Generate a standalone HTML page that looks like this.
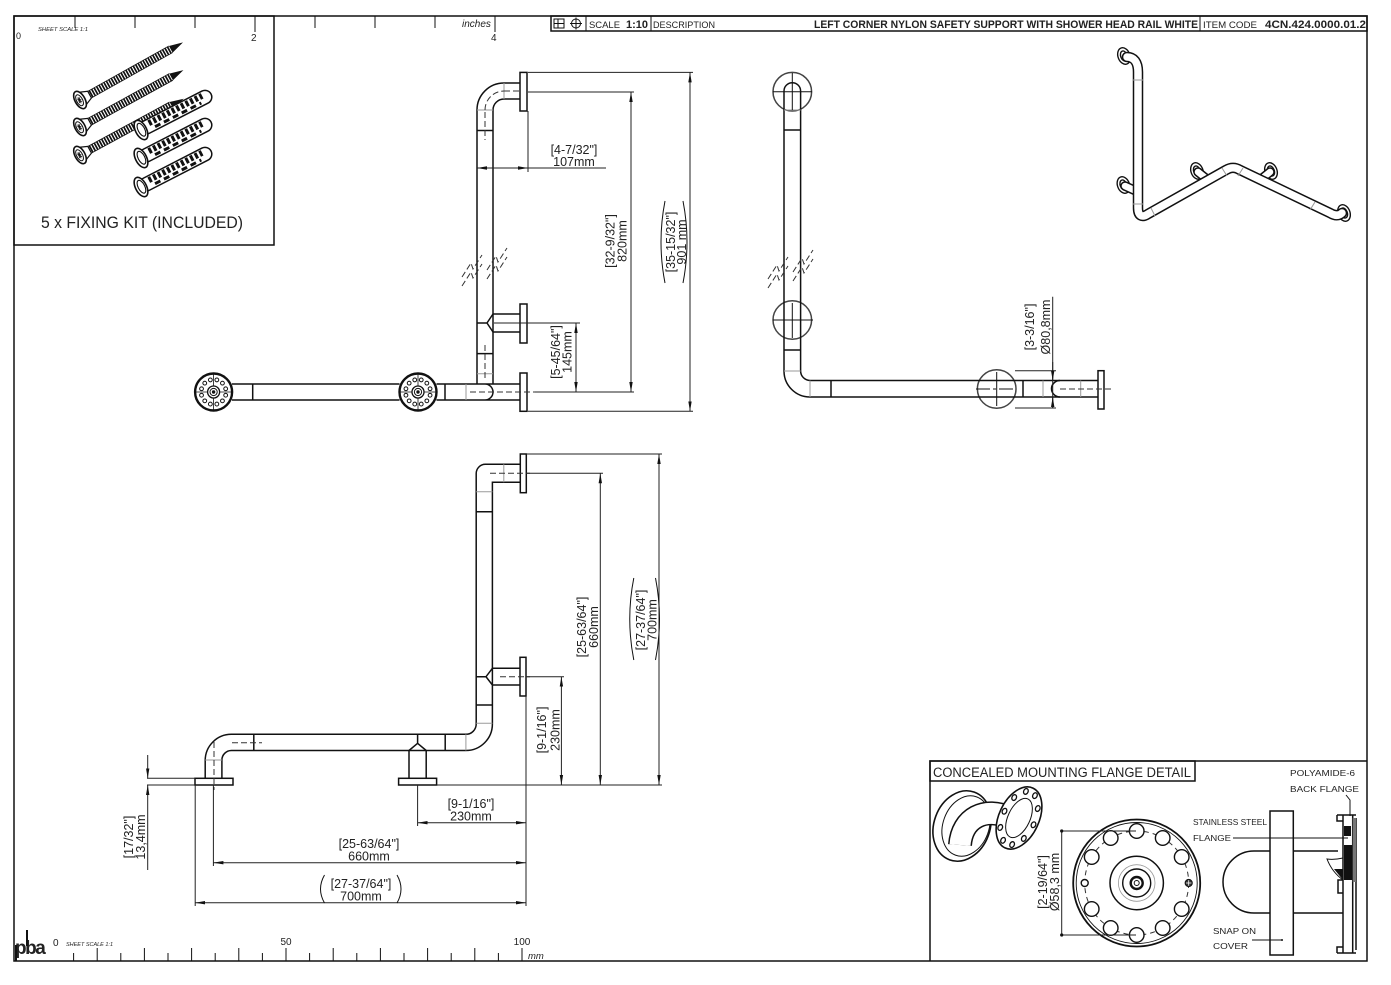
<!DOCTYPE html>
<html><head><meta charset="utf-8">
<style>
html,body{margin:0;padding:0;background:#fff;}
svg{display:block;}
text{font-family:"Liberation Sans",sans-serif;fill:#222;}
.k{stroke:#111;stroke-width:1.5;fill:none;}
.m{stroke:#111;stroke-width:1;fill:none;}
.g{stroke:#9a9a9a;stroke-width:1;fill:none;}
.d{stroke:#333;stroke-width:1;fill:none;stroke-dasharray:6 3;}
.dim{stroke:#222;stroke-width:1;fill:none;}
.dt{font-size:12.5px;}
.sm{font-size:9px;}
</style></head><body>
<svg width="1391" height="985" viewBox="0 0 1391 985" xmlns="http://www.w3.org/2000/svg">
<defs>
<marker id="ar" viewBox="0 0 10 4" refX="10" refY="2" markerWidth="10" markerHeight="4" orient="auto-start-reverse" markerUnits="userSpaceOnUse"><path d="M0,0.3 L10,2 L0,3.7z" fill="#111"/></marker>
<g id="fc">
<circle r="18.5" fill="#fff" stroke="#111" stroke-width="2.4"/>
<path d="M-18.5,0 H18.5 M0,-18.5 V18.5" stroke="#111" stroke-width="0.8"/>
<g fill="#fff" stroke="#111" stroke-width="1">
<circle cx="12.07" cy="3.24" r="1.9"/><circle cx="8.84" cy="8.84" r="1.9"/><circle cx="3.24" cy="12.07" r="1.9"/>
<circle cx="-3.24" cy="12.07" r="1.9"/><circle cx="-8.84" cy="8.84" r="1.9"/><circle cx="-12.07" cy="3.24" r="1.9"/>
<circle cx="-12.07" cy="-3.24" r="1.9"/><circle cx="-8.84" cy="-8.84" r="1.9"/><circle cx="-3.24" cy="-12.07" r="1.9"/>
<circle cx="3.24" cy="-12.07" r="1.9"/><circle cx="8.84" cy="-8.84" r="1.9"/><circle cx="12.07" cy="-3.24" r="1.9"/>
<circle r="6" stroke-width="1.3"/><circle r="3.6"/>
</g>
<circle r="1.7" fill="#111"/>
</g>
<g id="screw">
<line x1="9" y1="0" x2="104" y2="0" stroke="#111" stroke-width="7.5" stroke-dasharray="1.7 1.1"/>
<path d="M9,-3.8 H104 M9,3.8 H104" stroke="#111" stroke-width="0.8"/>
<path d="M104,-3.8 L118,0 L104,3.8z" fill="#111"/>
<path d="M1,-8 L11,-3.8 L11,3.8 L1,8z" fill="#fff" stroke="#111" stroke-width="1.2"/>
<ellipse rx="5" ry="9.5" fill="#fff" stroke="#111" stroke-width="1.6"/>
<ellipse cx="-0.5" rx="3" ry="6" fill="#fff" stroke="#111" stroke-width="1"/>
<path d="M-0.5,-3.5 V3.5 M-2.5,0 H1.5 M-2,-2.5 L1,2.5 M-2,2.5 L1,-2.5" stroke="#111" stroke-width="0.8"/>
</g>
<g id="anchor">
<line x1="6" y1="0" x2="72" y2="0" stroke="#111" stroke-width="15" stroke-linecap="round"/>
<line x1="6" y1="0" x2="72" y2="0" stroke="#fff" stroke-width="12" stroke-linecap="round"/>
<line x1="10" y1="-2.5" x2="70" y2="-2.5" stroke="#111" stroke-width="6" stroke-dasharray="3 2.2"/>
<line x1="14" y1="3.5" x2="66" y2="3.5" stroke="#111" stroke-width="3" stroke-dasharray="6 4"/>
<ellipse rx="5.5" ry="10.5" fill="#fff" stroke="#111" stroke-width="1.6"/>
<ellipse cx="0.5" rx="3.3" ry="7" fill="#fff" stroke="#111" stroke-width="1.1"/>
</g>
</defs>
<rect width="1391" height="985" fill="#fff"/>

<!-- frame -->
<rect x="14" y="16" width="1353" height="945" class="k"/>
<!-- top ruler -->
<path class="m" d="M75,16V28 M135,16V28 M195,16V28 M255,16V32 M315,16V28 M375,16V28 M435,16V28 M495,16V32"/>
<text x="16" y="39" font-size="9">0</text>
<text x="38" y="31" font-size="5.5" font-style="italic" textLength="50" lengthAdjust="spacingAndGlyphs">SHEET SCALE 1:1</text>
<text x="251" y="41" font-size="10">2</text>
<text x="462" y="27" font-size="10" font-style="italic">inches</text>
<text x="491" y="41" font-size="10">4</text>

<!-- fixing kit -->
<rect x="14" y="16" width="260" height="229" class="k"/>
<use href="#screw" transform="translate(80,155) rotate(-28.5)"/>
<use href="#anchor" transform="translate(141,187) rotate(-27.2)"/>
<use href="#anchor" transform="translate(141,158) rotate(-27.2)"/>
<use href="#anchor" transform="translate(141,130) rotate(-27.2)"/>
<use href="#screw" transform="translate(80,100) rotate(-29.2)"/>
<use href="#screw" transform="translate(80,127) rotate(-28.8)"/>
<text x="142" y="228" font-size="17" text-anchor="middle" textLength="202" lengthAdjust="spacingAndGlyphs">5 x FIXING KIT (INCLUDED)</text>

<!-- title bar -->
<rect x="551" y="16" width="816" height="15" class="k"/>
<path class="m" d="M586,16V31 M651,16V31 M1200,16V31"/>
<rect x="554" y="19" width="10" height="9" class="m"/>
<path class="m" d="M554,23.5 H564 M558,19 V28"/>
<circle cx="576" cy="23.5" r="4.5" class="m"/>
<path class="m" d="M570,23.5 H582 M576,17.5 V29.5"/>
<text x="589" y="28" font-size="9" textLength="31" lengthAdjust="spacingAndGlyphs">SCALE</text>
<text x="626" y="28" font-size="11" font-weight="bold" textLength="22" lengthAdjust="spacingAndGlyphs">1:10</text>
<text x="653" y="28" font-size="9" textLength="62" lengthAdjust="spacingAndGlyphs">DESCRIPTION</text>
<text x="814" y="28" font-size="11" font-weight="bold" textLength="384" lengthAdjust="spacingAndGlyphs">LEFT CORNER NYLON SAFETY SUPPORT WITH SHOWER HEAD RAIL WHITE</text>
<text x="1203" y="28" font-size="9" textLength="54" lengthAdjust="spacingAndGlyphs">ITEM CODE</text>
<text x="1265" y="28" font-size="11" font-weight="bold" textLength="101" lengthAdjust="spacingAndGlyphs">4CN.424.0000.01.2</text>

<!-- ============ FRONT VIEW (top) ============ -->
<g class="k">
<path d="M477,110 V384 M493,110 V384"/>
<path d="M477,110 A27,27 0 0 1 504,83 H520 M493,110 A11,11 0 0 1 504,99 H520"/>
<path d="M477,130.5 H493 M477,353.6 H493"/>
<path d="M493,314 H520 M493,332 H520 M493,314 L487,323 L493,332 M477,323 H487"/>
<path d="M232,384 H399.5 M232,400 H399.5 M436.5,384 H520 M436.5,400 H520 M485,384 A8,8 0 0 1 485,400 M252.7,384 V400 M445,384 V400"/>
<rect x="520" y="72.4" width="7" height="38.6" fill="#fff"/>
<rect x="520" y="304" width="7" height="39" fill="#fff"/>
<rect x="520" y="373" width="7" height="38.3" fill="#fff"/>
</g>
<path class="g" d="M477,110 H493 M477,373.7 H493 M504,83 V99 M466,384 V400"/>
<path class="d" d="M485,112 V140 M504,91 H520 M470,392 H535 M485,345 V380"/>
<path class="d" d="M485,110 A19,19 0 0 1 504,91"/>
<use href="#fc" x="213.6" y="392"/>
<use href="#fc" x="418" y="392"/>
<g class="d" stroke-dasharray="3 2">
<path d="M462,277 l9,-14 l2,6 l9,-14 M462,286 l9,-14 l2,6 l9,-14"/>
<path d="M487,270 l9,-14 l2,6 l9,-14 M487,279 l9,-14 l2,6 l9,-14"/>
</g>
<!-- front dims -->
<path class="dim" d="M528,111 V172 M528,92 H634 M535,392 H634 M528,72.4 H693 M528,411.3 H693 M494,323 H580"/>
<path class="dim" d="M477,168 H528" marker-start="url(#ar)" marker-end="url(#ar)"/>
<path class="dim" d="M528,168 H606"/>
<path class="dim" d="M631,92 V392" marker-start="url(#ar)" marker-end="url(#ar)"/>
<path class="dim" d="M690,72.4 V411.3" marker-start="url(#ar)" marker-end="url(#ar)"/>
<path class="dim" d="M576,323 V392" marker-start="url(#ar)" marker-end="url(#ar)"/>
<text class="dt" x="574" y="154" text-anchor="middle">[4-7/32"]</text>
<text class="dt" x="574" y="166" text-anchor="middle">107mm</text>
<text class="dt" transform="translate(614.5,241) rotate(-90)" text-anchor="middle">[32-9/32"]</text>
<text class="dt" transform="translate(626.5,241) rotate(-90)" text-anchor="middle">820mm</text>
<text class="dt" transform="translate(675,242) rotate(-90)" text-anchor="middle">[35-15/32"]</text>
<text class="dt" transform="translate(686,242) rotate(-90)" text-anchor="middle">901 mm</text>
<path class="m" d="M665,201 Q657,242 665,283 M683,201 Q691,242 683,283"/>
<text class="dt" transform="translate(560,352) rotate(-90)" text-anchor="middle">[5-45/64"]</text>
<text class="dt" transform="translate(571.5,352) rotate(-90)" text-anchor="middle">145mm</text>

<!-- ============ SIDE VIEW ============ -->
<g fill="none" stroke="#444" stroke-width="1.5">
<circle cx="792.3" cy="91.7" r="19.3"/>
<circle cx="792.3" cy="320" r="19.3"/>
<circle cx="996.7" cy="389" r="19.3"/>
</g>
<g class="k">
<path d="M784,371 V91 A8.3,8.3 0 0 1 800.6,91 V371"/>
<path d="M784,371 A26,26 0 0 0 810,397 H1098 M800.6,371 A9.6,9.6 0 0 0 810,380.5 H1098"/>
<path d="M784,130 H800.6 M784,350 H800.6 M831,380.5 V397 M1023,380.5 V397"/>
<path d="M1060,380.5 A8.5,8.25 0 0 0 1060,397"/>
<rect x="1098" y="370.7" width="6" height="38.3" fill="#fff"/>
</g>
<path class="g" d="M784,110 H800.6 M784,371 H800.6 M810,380.5 V397 M1043,380.5 V397 M1080.7,380.5 V397"/>
<path class="m" d="M792.3,73 V110 M773,91.7 H812 M792.3,303 V338 M773,320 H813 M996.7,372 V406"/>
<path class="m" d="M976,389 H1015" stroke-dasharray="14 3 3 3"/>
<path class="d" d="M1060,389 H1112"/>
<g class="d" stroke-dasharray="3 2">
<path d="M768,279 l9,-14 l2,6 l9,-14 M768,288 l9,-14 l2,6 l9,-14"/>
<path d="M793,272 l9,-14 l2,6 l9,-14 M793,281 l9,-14 l2,6 l9,-14"/>
</g>
<path class="dim" d="M1015,370.7 H1056 M1015,408 H1056 M1052.7,296.7 V408"/>
<path class="dim" d="M1052.7,362 V380.5" marker-end="url(#ar)"/>
<path class="dim" d="M1052.7,408 V397" marker-end="url(#ar)"/>
<text class="dt" transform="translate(1034,327) rotate(-90)" text-anchor="middle">[3-3/16"]</text>
<text class="dt" transform="translate(1050,327) rotate(-90)" text-anchor="middle">Ø80,8mm</text>

<!-- ============ ISOMETRIC ============ -->
<g stroke="#111" stroke-width="1.4" fill="#fff">
<ellipse cx="1197" cy="171" rx="6" ry="8.5" transform="rotate(-20 1197 171)"/>
<ellipse cx="1197" cy="171" rx="3.3" ry="5.2" transform="rotate(-20 1197 171)"/>
<ellipse cx="1271" cy="171" rx="6" ry="8.5" transform="rotate(-20 1271 171)"/>
<ellipse cx="1271" cy="171" rx="3.3" ry="5.2" transform="rotate(-20 1271 171)"/>
<ellipse cx="1123.5" cy="185" rx="6" ry="8.5" transform="rotate(-20 1123.5 185)"/>
<ellipse cx="1123.5" cy="185" rx="3.3" ry="5.2" transform="rotate(-20 1123.5 185)"/>
<ellipse cx="1124" cy="56" rx="6" ry="8.5" transform="rotate(-20 1124 56)"/>
<ellipse cx="1124" cy="56" rx="3.3" ry="5.2" transform="rotate(-20 1124 56)"/>
<ellipse cx="1344" cy="213" rx="6" ry="8.5" transform="rotate(-20 1344 213)"/>
<ellipse cx="1344" cy="213" rx="3.3" ry="5.2" transform="rotate(-20 1344 213)"/>
</g>
<g fill="none" stroke-linecap="round">
<path d="M1198,172 L1208,180 M1270,172 L1260,180 M1125,186 L1136,191" stroke="#111" stroke-width="9.5"/>
<path d="M1198,172 L1208,180 M1270,172 L1260,180 M1125,186 L1136,191" stroke="#fff" stroke-width="6.5"/>
<path d="M1127,57 C1134,57 1138,62 1138,72 L1138,208 C1138,216 1142,218 1148,214 L1226,170 C1231,167 1235,167 1240,170 L1330,213 C1335,216 1339,216 1342,213" stroke="#111" stroke-width="10.5"/>
<path d="M1127,57 C1134,57 1138,62 1138,72 L1138,208 C1138,216 1142,218 1148,214 L1226,170 C1231,167 1235,167 1240,170 L1330,213 C1335,216 1339,216 1342,213" stroke="#fff" stroke-width="7.5"/>
</g>
<path class="g" d="M1133,80 H1143 M1133,204 H1143 M1151,208 L1155,216 M1222,168 L1227,176 M1243,168 L1238,176 M1315,202 L1310,210"/>

<!-- ============ BOTTOM VIEW ============ -->
<g class="k">
<path d="M476.2,724 V473.5 A9.2,9.2 0 0 1 485.4,464.3 H520.3"/>
<path d="M476.2,724 A10.3,10.3 0 0 1 465.9,734.3 H231.4 A26.2,26.2 0 0 0 205.2,760.5 V778.3"/>
<path d="M520.3,482.3 H492.4 V724 A26.5,26.5 0 0 1 465.9,750.5 H231.4 A9.5,9.5 0 0 0 221.9,760 V778.3"/>
<path d="M492.4,668.3 H520 M492.4,685 H520 M492.4,668.3 L486,676.7 L492.4,685 M476.2,676.7 H486"/>
<path d="M476.2,511.7 H492.4 M476.2,705 H492.4 M253.8,734.3 V750.5 M445.2,734.3 V750.5"/>
<path d="M409,750.5 V778.3 M426.2,750.5 V778.3 M409,750.5 L417.6,743.3 L426.2,750.5 M417.6,734.3 V743.3"/>
<rect x="520.3" y="454" width="6" height="38.7" fill="#fff"/>
<rect x="520" y="657.3" width="6" height="38.7" fill="#fff"/>
<rect x="195" y="778.3" width="38" height="6.7" fill="#fff"/>
<rect x="398.6" y="778.3" width="38" height="6.7" fill="#fff"/>
</g>
<path class="g" d="M476.2,491.7 H492.4 M476.2,723.3 H492.4 M465.9,734.3 V750.5 M503.8,464.3 V482.3 M205.2,760 H221.9"/>
<path class="d" d="M490,473.3 H530 M232,742.7 H262 M214,742 V790 M500,676.7 H530"/>
<!-- bottom dims -->
<path class="dim" d="M436.6,785 H662 M526,454 H662 M526,473.3 H603 M526,676.7 H564 M526,696 V906 M417.6,785 V826 M213.4,785 V866 M195.2,785 V906 M147,778.3 H195 M147,785 H195"/>
<path class="dim" d="M561.4,676.7 V785" marker-start="url(#ar)" marker-end="url(#ar)"/>
<path class="dim" d="M600.3,473.3 V785" marker-start="url(#ar)" marker-end="url(#ar)"/>
<path class="dim" d="M659,454 V785" marker-start="url(#ar)" marker-end="url(#ar)"/>
<path class="dim" d="M417.6,822.7 H526" marker-start="url(#ar)" marker-end="url(#ar)"/>
<path class="dim" d="M213.4,862.7 H526" marker-start="url(#ar)" marker-end="url(#ar)"/>
<path class="dim" d="M195.2,902.7 H526" marker-start="url(#ar)" marker-end="url(#ar)"/>
<path class="dim" d="M147.7,755 V778.3" marker-end="url(#ar)"/>
<path class="dim" d="M147.7,870 V785" marker-end="url(#ar)"/>
<text class="dt" transform="translate(546,730) rotate(-90)" text-anchor="middle">[9-1/16"]</text>
<text class="dt" transform="translate(559.5,730) rotate(-90)" text-anchor="middle">230mm</text>
<text class="dt" transform="translate(586,627) rotate(-90)" text-anchor="middle">[25-63/64"]</text>
<text class="dt" transform="translate(598,627) rotate(-90)" text-anchor="middle">660mm</text>
<text class="dt" transform="translate(645,620) rotate(-90)" text-anchor="middle">[27-37/64"]</text>
<text class="dt" transform="translate(656.5,620) rotate(-90)" text-anchor="middle">700mm</text>
<path class="m" d="M633.8,578 Q625.7,619 633.8,660 M655.5,578 Q663.5,619 655.5,660"/>
<text class="dt" x="471" y="808" text-anchor="middle">[9-1/16"]</text>
<text class="dt" x="471" y="820.5" text-anchor="middle">230mm</text>
<text class="dt" x="369" y="848" text-anchor="middle">[25-63/64"]</text>
<text class="dt" x="369" y="860.5" text-anchor="middle">660mm</text>
<text class="dt" x="361" y="888" text-anchor="middle">[27-37/64"]</text>
<text class="dt" x="361" y="900.5" text-anchor="middle">700mm</text>
<path class="m" d="M324.5,875 Q316.5,889 324.5,903 M397,875 Q405,889 397,903"/>
<text class="dt" transform="translate(133,837) rotate(-90)" text-anchor="middle">[17/32"]</text>
<text class="dt" transform="translate(145,837) rotate(-90)" text-anchor="middle">13,4mm</text>

<!-- ============ FLANGE DETAIL ============ -->
<path class="k" d="M930,961 V761 H1367"/>
<rect x="930" y="761" width="265" height="20" class="k"/>
<text x="933" y="777" font-size="13.5" textLength="258" lengthAdjust="spacingAndGlyphs">CONCEALED MOUNTING FLANGE DETAIL</text>
<text x="1290" y="776" font-size="8.5" textLength="65" lengthAdjust="spacingAndGlyphs">POLYAMIDE-6</text>
<text x="1290" y="792" font-size="8.5" textLength="69" lengthAdjust="spacingAndGlyphs">BACK FLANGE</text>
<text x="1193" y="825" font-size="8.5" textLength="74" lengthAdjust="spacingAndGlyphs">STAINLESS STEEL</text>
<text x="1193" y="841" font-size="8.5" textLength="38" lengthAdjust="spacingAndGlyphs">FLANGE</text>
<text x="1213" y="934" font-size="8.5" textLength="43" lengthAdjust="spacingAndGlyphs">SNAP ON</text>
<text x="1213" y="949" font-size="8.5" textLength="35" lengthAdjust="spacingAndGlyphs">COVER</text>
<path class="m" d="M1233,838 H1348 M1252,940 H1282 M1346,795 L1350,800 V816"/>
<circle cx="1282" cy="940" r="1" fill="#111"/>

<!-- iso flange -->
<ellipse cx="962" cy="826" rx="28" ry="36" transform="rotate(20 962 826)" fill="#fff" stroke="#111" stroke-width="1.6"/>
<ellipse cx="966" cy="826" rx="23" ry="31" transform="rotate(20 966 826)" fill="none" stroke="#111" stroke-width="1"/>
<path d="M960,845 C962,818 985,806 1010,818" fill="none" stroke="#111" stroke-width="24"/>
<path d="M960,845 C962,818 985,806 1010,818" fill="none" stroke="#fff" stroke-width="21"/>
<g transform="translate(1019,818) rotate(25)">
<ellipse rx="20" ry="33" fill="#fff" stroke="#111" stroke-width="1.6"/>
<ellipse rx="11" ry="21" fill="none" stroke="#111" stroke-width="1"/>
<g fill="#fff" stroke="#111" stroke-width="1.3">
<ellipse cx="16" cy="0" rx="2.2" ry="3"/><ellipse cx="13" cy="16.5" rx="2.2" ry="3"/><ellipse cx="5" cy="27" rx="2.2" ry="3"/>
<ellipse cx="-5" cy="27" rx="2.2" ry="3"/><ellipse cx="-13" cy="16.5" rx="2.2" ry="3"/><ellipse cx="-16" cy="0" rx="2.2" ry="3"/>
<ellipse cx="-13" cy="-16.5" rx="2.2" ry="3"/><ellipse cx="-5" cy="-27" rx="2.2" ry="3"/><ellipse cx="5" cy="-27" rx="2.2" ry="3"/>
<ellipse cx="13" cy="-16.5" rx="2.2" ry="3"/>
</g>
</g>

<!-- front flange circle -->
<circle cx="1136.7" cy="883" r="63.5" fill="none" stroke="#111" stroke-width="1.8"/>
<circle cx="1136.7" cy="883" r="60.5" fill="none" stroke="#111" stroke-width="0.9"/>
<circle cx="1136.7" cy="883" r="52" fill="none" stroke="#333" stroke-width="1" stroke-dasharray="5 4"/>
<g fill="#fff" stroke="#111" stroke-width="1.4">
<circle cx="1136.7" cy="831" r="7.3"/><circle cx="1162.7" cy="838" r="7.3"/><circle cx="1181.7" cy="857" r="7.3"/>
<circle cx="1181.7" cy="909" r="7.3"/><circle cx="1162.7" cy="928" r="7.3"/><circle cx="1136.7" cy="935" r="7.3"/>
<circle cx="1110.7" cy="928" r="7.3"/><circle cx="1091.7" cy="909" r="7.3"/><circle cx="1091.7" cy="857" r="7.3"/>
<circle cx="1110.7" cy="838" r="7.3"/><circle cx="1084.7" cy="883" r="3.5"/>
</g>
<circle cx="1188.7" cy="883" r="3.6" fill="#333" stroke="#111"/>
<path d="M1186,883 H1191.4 M1188.7,880.3 V885.7" stroke="#fff" stroke-width="0.8"/>
<circle cx="1136.7" cy="883" r="26.7" fill="none" stroke="#111" stroke-width="1.5"/>
<circle cx="1136.7" cy="883" r="18.3" fill="none" stroke="#999" stroke-width="0.8"/>
<circle cx="1136.7" cy="883" r="14" fill="none" stroke="#111" stroke-width="1.4"/>
<circle cx="1136.7" cy="883" r="6" fill="none" stroke="#111" stroke-width="2.4"/>
<circle cx="1136.7" cy="883" r="2.5" fill="none" stroke="#111" stroke-width="1"/>
<path class="dim" d="M1061.7,831 H1136 M1061.7,935 H1136 M1061.7,831 V935"/>
<circle cx="1061.7" cy="831" r="1.6" fill="#111"/>
<circle cx="1061.7" cy="935" r="1.6" fill="#111"/>
<text class="dt" transform="translate(1047,882) rotate(-90)" text-anchor="middle" font-size="11.5">[2-19/64"]</text>
<text class="dt" transform="translate(1059,882) rotate(-90)" text-anchor="middle" font-size="11.5">Ø58,3 mm</text>

<!-- side flange section -->
<path class="k" d="M1270,851 H1254 A31,31 0 0 0 1254,913 H1270"/>
<rect x="1270" y="811" width="23.3" height="144" fill="#fff" class="k"/>
<path class="k" d="M1293.3,851 H1338 M1293.3,913 H1343"/>
<path class="k" d="M1343,815 V953 M1352.7,815 V953 M1356,818 V950 M1337,815 H1356 M1337,815 V821 H1343 M1337,953 H1356 M1337,953 V947 H1343 M1343,880 H1338 V893 H1343"/>
<rect x="1344" y="826" width="7" height="10" fill="#111"/>
<rect x="1344" y="845" width="8" height="35" fill="#111"/>
<rect x="1352.7" y="818" width="3.3" height="64" fill="#777"/>
<path class="m" d="M1327,859 Q1334,860 1343,858 L1343,880 Q1332,872 1327,859z"/>
<path d="M1334,869 L1343,869 L1343,880z" fill="#111"/>

<!-- bottom ruler -->
<path class="m" d="M73.6,961V953 M97.2,961V948 M120.8,961V953 M144.4,961V948 M168,961V953 M191.6,961V948 M215.2,961V953 M238.8,961V948 M262.4,961V953 M286,961V948 M309.6,961V953 M333.2,961V948 M356.8,961V953 M380.4,961V948 M404,961V953 M427.6,961V948 M451.2,961V953 M474.8,961V948 M498.4,961V953 M522,961V948"/>
<text x="53" y="946" font-size="10">0</text>
<text x="66" y="946" font-size="5.5" font-style="italic" textLength="47" lengthAdjust="spacingAndGlyphs">SHEET SCALE 1:1</text>
<text x="286" y="945" font-size="10" text-anchor="middle">50</text>
<text x="522" y="945" font-size="10" text-anchor="middle">100</text>
<text x="528" y="959" font-size="9.5" font-style="italic">mm</text>
<text x="15" y="954" font-size="19" font-weight="bold" letter-spacing="-1.5" fill="#111">pba</text>
<path d="M16,945 V961 M27,930 V946" stroke="#111" stroke-width="2"/>
</svg>
</body></html>
